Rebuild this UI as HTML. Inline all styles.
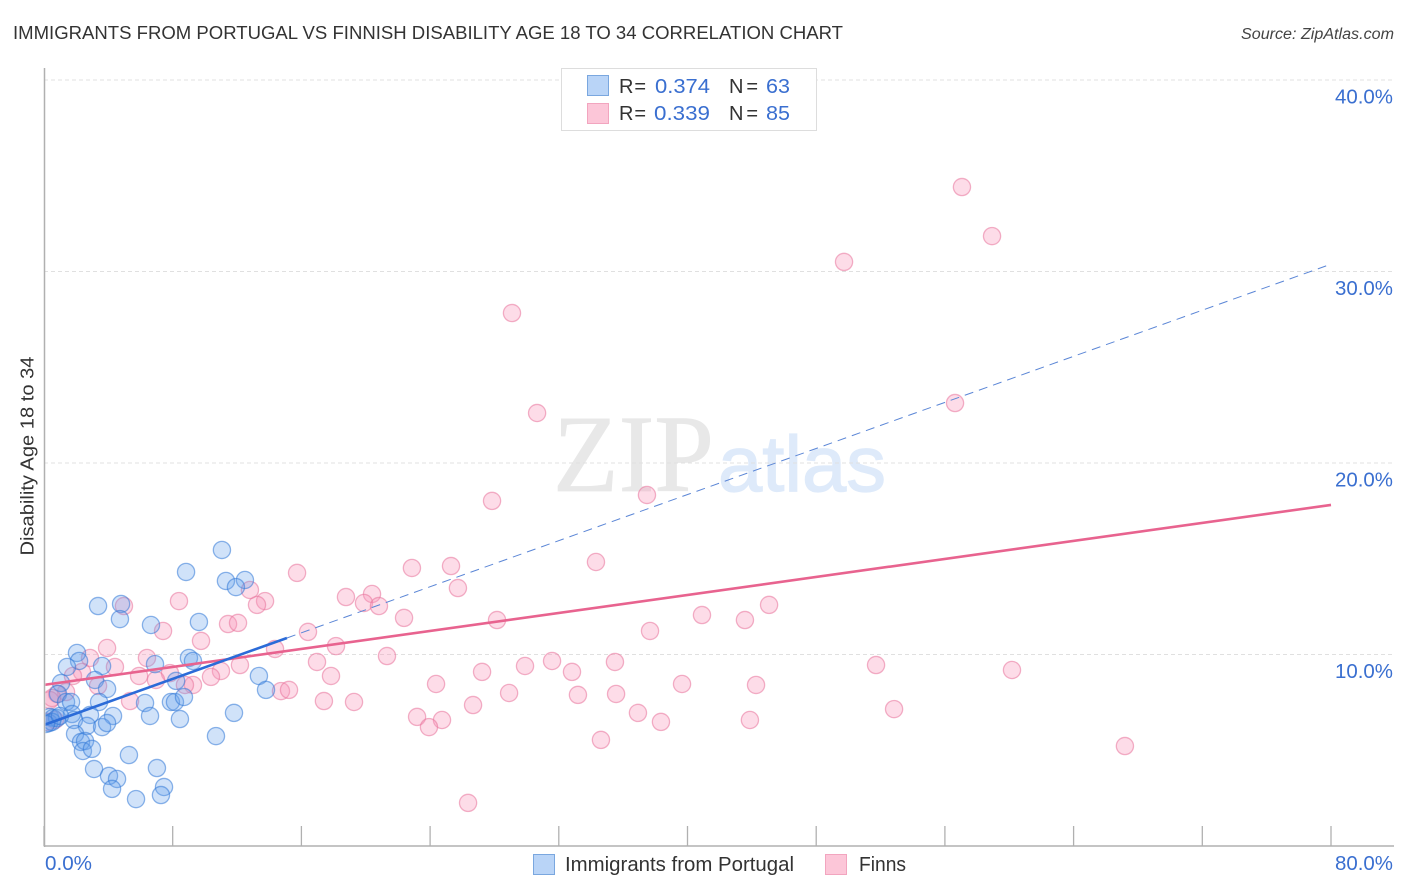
<!DOCTYPE html>
<html>
<head>
<meta charset="utf-8">
<title>Immigrants from Portugal vs Finnish Disability Age 18 to 34 Correlation Chart</title>
<style>
html,body{margin:0;padding:0;background:#fff;width:1406px;height:892px;overflow:hidden}
svg{display:block}
text{font-family:"Liberation Sans",sans-serif}
</style>
</head>
<body>
<svg id="chart" width="1406" height="892" viewBox="0 0 1406 892" xmlns="http://www.w3.org/2000/svg">
<defs><clipPath id="plot-clip"><rect x="45.5" y="60" width="1350" height="785"/></clipPath></defs>
<text x="13" y="39" font-size="18.5" fill="#333" textLength="830" lengthAdjust="spacingAndGlyphs">IMMIGRANTS FROM PORTUGAL VS FINNISH DISABILITY AGE 18 TO 34 CORRELATION CHART</text>
<text x="1394" y="39" font-size="15.5" font-style="italic" fill="#444" text-anchor="end" textLength="153" lengthAdjust="spacingAndGlyphs">Source: ZipAtlas.com</text>
<g>
<text x="553" y="491" font-size="110" fill="#e8e8e8" stroke="#e8e8e8" stroke-width="0.8" style="font-family:'Liberation Serif',serif" textLength="161" lengthAdjust="spacingAndGlyphs">ZIP</text>
<text x="718" y="491" font-size="79" fill="#deeafa" stroke="#deeafa" stroke-width="1.2" textLength="168" lengthAdjust="spacingAndGlyphs">atlas</text>
</g>
<g id="grid"></g>
<g id="axes"></g>
<g clip-path="url(#plot-clip)">
<g id="pink-points"></g>
<g id="blue-points"></g>
<g id="lines"></g>
</g>
<text transform="translate(33.5,456) rotate(-90)" font-size="18" fill="#333" text-anchor="middle" textLength="199" lengthAdjust="spacingAndGlyphs">Disability Age 18 to 34</text>
<g id="labels"></g>
<g>
<rect x="561.5" y="68.5" width="255" height="62" fill="#fff" stroke="#ddd" stroke-width="1"/>
<rect x="587.5" y="75.5" width="21" height="20" fill="#b9d4f7" stroke="#7aa7df"/>
<rect x="587.5" y="103.5" width="21" height="20" fill="#fcc6d8" stroke="#f2a5bf"/>
<text x="619" y="93" font-size="20" fill="#333" textLength="27" lengthAdjust="spacing">R =</text>
<text x="655" y="93" font-size="20" fill="#3a6fd0" textLength="55" lengthAdjust="spacingAndGlyphs">0.374</text>
<text x="729" y="93" font-size="20" fill="#333" textLength="29" lengthAdjust="spacing">N =</text>
<text x="766" y="93" font-size="20" fill="#3a6fd0" textLength="24" lengthAdjust="spacingAndGlyphs">63</text>
<text x="619" y="120" font-size="20" fill="#333" textLength="27" lengthAdjust="spacing">R =</text>
<text x="654" y="120" font-size="20" fill="#3a6fd0" textLength="56" lengthAdjust="spacingAndGlyphs">0.339</text>
<text x="729" y="120" font-size="20" fill="#333" textLength="29" lengthAdjust="spacing">N =</text>
<text x="766" y="120" font-size="20" fill="#3a6fd0" textLength="24" lengthAdjust="spacingAndGlyphs">85</text>
</g>
<g>
<rect x="533.5" y="854.5" width="21" height="20" fill="#b9d4f7" stroke="#7aa7df"/>
<text x="565" y="871" font-size="20" fill="#333" textLength="229" lengthAdjust="spacingAndGlyphs">Immigrants from Portugal</text>
<rect x="825.5" y="854.5" width="21" height="20" fill="#fcc6d8" stroke="#f2a5bf"/>
<text x="859" y="871" font-size="20" fill="#333" textLength="47" lengthAdjust="spacingAndGlyphs">Finns</text>
</g>
</svg>
<script>
var yTickValues = [10, 20, 30, 40];
var yTickLabels = ["10.0%", "20.0%", "30.0%", "40.0%"];
var xTickValues = [0, 8, 16, 24, 32, 40, 48, 56, 64, 72, 80];
var xEndLabels = ["0.0%", "80.0%"];
var portugalX = [11.06,8.83,11.31,12.49,11.93,3.36,4.79,4.72,6.65,9.63,2.05,2.18,1.43,3.61,6.90,9.01,9.26,1.06,3.17,3.92,8.21,13.36,13.80,0.87,1.37,1.68,3.42,6.28,7.89,8.14,8.70,1.74,2.86,4.29,6.59,8.45,11.81,0.37,0.56,0.31,0.81,0.50,1.86,2.67,3.61,3.92,1.93,2.30,2.55,2.42,2.98,5.28,10.69,3.11,7.02,4.04,4.54,4.23,7.46,7.27,5.72,0.12,0.99];
var portugalY = [15.46,14.31,13.84,13.89,13.52,12.53,12.64,11.85,11.54,11.70,10.08,9.66,9.35,9.40,9.50,9.82,9.66,8.51,8.67,8.20,8.62,8.88,8.15,7.94,7.52,7.52,7.52,7.47,7.52,7.52,7.78,6.89,6.84,6.79,6.79,6.63,6.95,6.74,6.68,6.42,6.68,6.48,6.58,6.27,6.21,6.42,5.85,5.43,5.48,4.96,5.07,4.75,5.74,4.02,4.07,3.66,3.50,2.98,3.08,2.66,2.45,6.37,6.79];
var finnsX = [57.06,58.93,49.73,29.09,30.65,56.63,37.48,27.85,34.31,25.30,22.87,15.73,25.73,18.77,20.39,19.89,20.82,22.38,28.16,40.90,43.57,45.07,37.67,18.15,16.41,13.74,13.24,12.80,11.44,12.06,8.39,4.97,7.40,9.76,3.92,14.36,21.32,16.97,31.58,35.49,29.90,27.23,32.82,60.17,51.72,17.84,12.18,11.00,6.40,2.86,4.41,2.36,1.80,5.91,7.83,6.96,3.36,9.26,8.76,10.38,24.37,39.66,44.26,28.91,33.19,35.56,14.73,15.23,17.40,19.27,26.67,52.84,23.19,24.74,23.93,36.92,38.35,43.88,34.62,67.19,26.36,5.35,1.37,0.81,0.37,0.50,0.68,0.19];
var finnsY = [34.41,31.85,30.50,27.83,22.61,23.13,18.33,18.02,14.83,14.62,14.52,14.26,13.47,13.00,13.16,12.69,12.53,11.91,11.80,12.06,11.80,12.59,11.23,10.44,11.18,12.79,12.59,13.37,11.59,11.65,12.79,12.53,11.23,10.71,10.34,10.29,9.92,9.61,9.66,9.61,9.40,9.09,9.09,9.19,9.45,8.88,9.45,9.14,9.82,9.82,9.35,9.09,8.88,8.88,9.03,8.67,8.36,8.41,8.41,8.83,8.46,8.46,8.41,7.99,7.89,7.94,8.09,8.15,7.57,7.52,7.36,7.15,6.74,6.58,6.21,6.95,6.48,6.58,5.54,5.22,2.25,7.57,8.04,7.94,7.62,7.73,6.58,6.48];
var portugalTrend = [6.32, 0.3008];
var portugalTrendSolidEnd = [15.1];
var portugalTrendDashEnd = [79.7];
var finnsTrend = [8.41, 0.1175];
var finnsTrendEnd = [80];

var NS = 'http://www.w3.org/2000/svg';
function xScale(v){ return 44 + v * 16.0875; }
function yScale(v){ return 846 - v * 19.15; }
function make(tag, attrs, parent){
  var el = document.createElementNS(NS, tag);
  for (var k in attrs) el.setAttribute(k, attrs[k]);
  document.getElementById(parent).appendChild(el);
  return el;
}

yTickValues.forEach(function(v, i){
  var line = make('line', {x1:44, x2:1394, y1:yScale(v), y2:yScale(v), stroke:'#e0e0e0', 'stroke-width':1, 'stroke-dasharray':'4 3'}, 'grid');
  
  
  var t = make('text', {x:1393, y:yScale(v)+23.5, 'font-size':20, fill:'#3a6fd0', 'text-anchor':'end', textLength:58, lengthAdjust:'spacingAndGlyphs'}, 'labels');
  t.textContent = yTickLabels[i];
  
  
});

var yAxis = make('line', {x1:44.5, x2:44.5, y1:68, y2:847, stroke:'#b0b0b0', 'stroke-width':1.5}, 'axes');


var xAxis = make('line', {x1:44, x2:1394, y1:846, y2:846, stroke:'#b0b0b0', 'stroke-width':1.5}, 'axes');


xTickValues.forEach(function(v){
  var tick = make('line', {x1:xScale(v), x2:xScale(v), y1:826, y2:846, stroke:'#b0b0b0', 'stroke-width':1.3}, 'axes');
  
  
});

var xLabelLeft = make('text', {x:45, y:870, 'font-size':20, fill:'#3a6fd0', textLength:47, lengthAdjust:'spacingAndGlyphs'}, 'labels');
xLabelLeft.textContent = xEndLabels[0];


var xLabelRight = make('text', {x:1393, y:870, 'font-size':20, fill:'#3a6fd0', 'text-anchor':'end', textLength:58, lengthAdjust:'spacingAndGlyphs'}, 'labels');
xLabelRight.textContent = xEndLabels[1];



finnsX.forEach(function(v, i){
  var c = make('circle', {cx:xScale(v), cy:yScale(finnsY[i]), r:8.6, fill:'rgba(248,150,185,0.33)', stroke:'rgba(232,115,155,0.55)', 'stroke-width':1.3}, 'pink-points');
  
  
});
portugalX.forEach(function(v, i){
  var c = make('circle', {cx:xScale(v), cy:yScale(portugalY[i]), r:8.6, fill:'rgba(100,160,235,0.3)', stroke:'rgba(50,120,215,0.55)', 'stroke-width':1.3}, 'blue-points');
  
  
});

function trendAt(tr, x){ return tr[0] + tr[1] * x; }
var dash = make('line', {x1:xScale(portugalTrendSolidEnd[0]), y1:yScale(trendAt(portugalTrend, portugalTrendSolidEnd[0])), x2:xScale(portugalTrendDashEnd[0]), y2:yScale(trendAt(portugalTrend, portugalTrendDashEnd[0])), stroke:'#5b86d6', 'stroke-width':1, 'stroke-dasharray':'9 6'}, 'lines');


var pinkLine = make('line', {x1:xScale(0), y1:yScale(trendAt(finnsTrend, 0)), x2:xScale(finnsTrendEnd[0]), y2:yScale(trendAt(finnsTrend, finnsTrendEnd[0])), stroke:'#e8638f', 'stroke-width':2.6}, 'lines');


var blueLine = make('line', {x1:xScale(0), y1:yScale(trendAt(portugalTrend, 0)), x2:xScale(portugalTrendSolidEnd[0]), y2:yScale(trendAt(portugalTrend, portugalTrendSolidEnd[0])), stroke:'#2b6bd8', 'stroke-width':2.6}, 'lines');


</script>
</body>
</html>
